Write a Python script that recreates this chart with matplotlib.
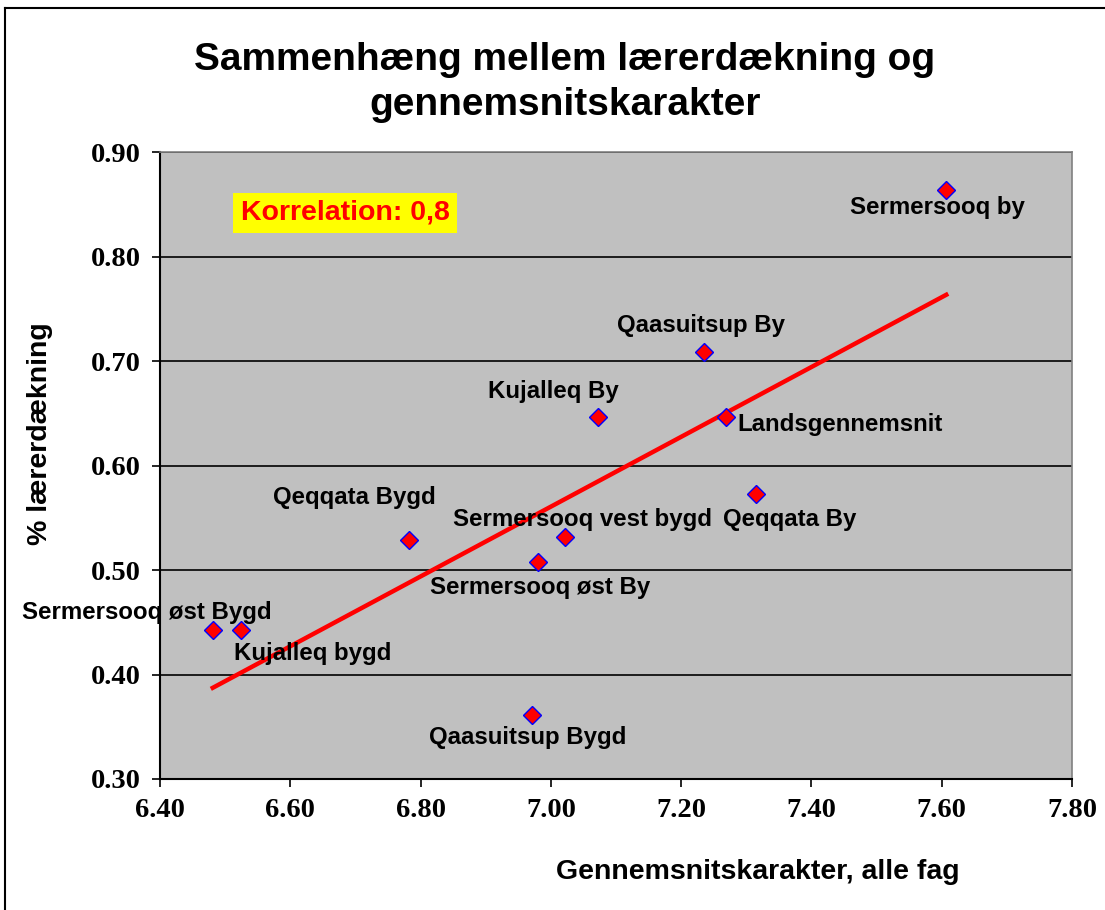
import numpy as np
import matplotlib
matplotlib.use("Agg")
import matplotlib.pyplot as plt
from matplotlib.lines import Line2D

# Data
regions = ["Sermersooq by", "Qaasuitsup By", "Kujalleq By", "Landsgennemsnit",
           "Qeqqata By", "Qeqqata Bygd", "Sermersooq vest bygd", "Sermersooq øst By",
           "Sermersooq øst Bygd", "Kujalleq bygd", "Qaasuitsup Bygd"]
karakter = [7.607, 7.235, 7.072, 7.269, 7.315, 6.782, 7.022, 6.980, 6.481, 6.524, 6.971]
daekning = [0.864, 0.709, 0.646, 0.646, 0.573, 0.529, 0.532, 0.508, 0.4425, 0.4425, 0.361]
x_ticks = [6.40, 6.60, 6.80, 7.00, 7.20, 7.40, 7.60, 7.80]
y_ticks = [0.30, 0.40, 0.50, 0.60, 0.70, 0.80, 0.90]

# label offsets in pixels (dx, dy, ha)
offsets = [(-9, -18, "center"), (-3, 26, "center"), (-44, 26, "center"), (11, -7, "left"),
           (34, -26, "center"), (-54, 42, "center"), (17, 17, "center"), (2, -26, "center"),
           (-66, 18, "center"), (-7, -23, "left"), (-4, -22, "center")]

fig = plt.figure(figsize=(11.05, 9.10), dpi=100)
ax = fig.add_axes([160 / 1105, (910 - 779) / 910, 912 / 1105, 627 / 910])
ax.set_facecolor("#C0C0C0")

ax.set_xlim(6.40, 7.80)
ax.set_ylim(0.30, 0.90)
ax.set_xticks(x_ticks)
ax.set_yticks(y_ticks)
ax.set_xticklabels([f"{v:.2f}" for v in x_ticks], family="Liberation Serif", fontweight="bold", fontsize=20.5)
ax.set_yticklabels([f"{v:.2f}" for v in y_ticks], family="Liberation Serif", fontweight="bold", fontsize=20.5)
ax.tick_params(direction="out", length=6, width=1.2, pad=8, color="black")
ax.yaxis.grid(True, color="black", linewidth=1.2)
ax.set_axisbelow(True)
for s in ["left", "bottom"]:
    ax.spines[s].set_color("black")
    ax.spines[s].set_linewidth(1.5)
for s in ["right", "top"]:
    ax.spines[s].set_color("#808080")
    ax.spines[s].set_linewidth(1.2)

# trend line
k, m = np.polyfit(karakter, daekning, 1)
xl = np.array([min(karakter), max(karakter)])
ax.plot(xl, k * xl + m, color="red", linewidth=3.2, zorder=3)

ax.plot(karakter, daekning, linestyle="none", marker="D", markersize=9.5,
        markerfacecolor="red", markeredgecolor="blue", markeredgewidth=1, zorder=4)

for name, x, y, (dx, dy, ha) in zip(regions, karakter, daekning, offsets):
    ax.annotate(name, (x, y), xytext=(dx, dy), textcoords="offset pixels",
                ha=ha, va="center", fontsize=17.3, fontweight="bold",
                family="Liberation Sans", color="black", zorder=5, annotation_clip=False)

ax.text(345 / 1105, 1 - 213 / 910, "Korrelation: 0,8", transform=fig.transFigure,
        ha="center", va="center", fontsize=20.5, fontweight="bold", family="Liberation Sans",
        color="red", bbox=dict(boxstyle="square,pad=0.25", facecolor="yellow", edgecolor="none"))

fig.text(565 / 1105, 1 - 60 / 910, "Sammenhæng mellem lærerdækning og", ha="center", va="center",
         fontsize=28, fontweight="bold", family="Liberation Sans")
fig.text(565 / 1105, 1 - 105 / 910, "gennemsnitskarakter", ha="center", va="center",
         fontsize=28, fontweight="bold", family="Liberation Sans")
fig.text(758 / 1105, 1 - 872 / 910, "Gennemsnitskarakter, alle fag", ha="center", va="center",
         fontsize=20.5, fontweight="bold", family="Liberation Sans")
fig.text(40 / 1105, 1 - 434 / 910, "% lærerdækning", ha="center", va="center", rotation=90,
         fontsize=20.5, fontweight="bold", family="Liberation Sans")

# chart frame
fig.add_artist(Line2D([5 / 1105, 5 / 1105], [0, 1 - 8 / 910], transform=fig.transFigure, color="black", lw=1.5))
fig.add_artist(Line2D([5 / 1105, 1], [1 - 8 / 910, 1 - 8 / 910], transform=fig.transFigure, color="black", lw=1.5))

fig.savefig("out.png", dpi=100)
